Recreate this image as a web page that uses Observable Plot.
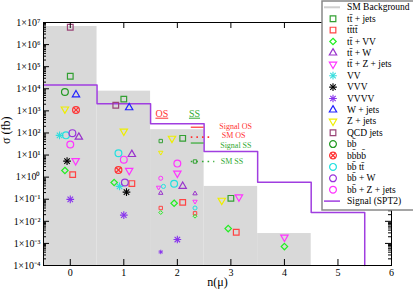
<!DOCTYPE html>
<html><head><meta charset="utf-8">
<script src="https://cdn.jsdelivr.net/npm/d3@7"></script>
<script src="https://cdn.jsdelivr.net/npm/@observablehq/plot@0.6"></script>
<style>
html,body{margin:0;padding:0;background:#fff;}
#chart{position:relative;width:413px;height:291px;}
</style></head><body><div id="chart"></div>
<script>
// ---------- data ----------
const xTicks = [0, 1, 2, 3, 4, 5, 6];
const yExponents = [-4, -3, -2, -1, 0, 1, 2, 3, 4, 5, 6, 7];
const xDomain = [-0.5, 6];

// SM background histogram (bin left edge, right edge, value)
const bgLeft  = [-0.5, 0.5, 1.5, 2.5, 3.5];
const bgRight = [0.5, 1.5, 2.5, 3.5, 4.5];
const bgValue = [6.6e6, 7.8e3, 140, 0.38, 0.0028];

// Signal (SPT2) step line: bin edges and values
const sigEdges  = [-0.5, 0.5, 1.5, 2.5, 3.5, 4.5, 5.5];
const sigValues = [1.5e4, 2.1e3, 260, 14.5, 0.59, 0.025, 1e-4];

// points: [n(mu) position, sigma, kind]  kind: all / OS / SS
const ttJets = [[0, 3.7e4, "all"], [1.0, 3.4e3, "all"], [2.1, 57, "all"], [1.69, 43, "OS"], [2.33, 5.1, "SS"], [3.0, 0.11, "all"]];
const tttt   = [[0.045, 1.3, "all"], [1.15, 0.51, "all"], [2.1, 0.072, "all"], [1.69, 0.040, "OS"], [2.33, 0.023, "SS"], [3.1, 0.0032, "all"]];
const ttVV   = [[-0.1, 2.0, "all"], [0.82, 0.57, "all"], [1.94, 0.066, "all"], [1.69, 0.025, "OS"], [2.33, 0.017, "SS"], [2.95, 0.0047, "all"], [4.0, 7.2e-4, "all"]];
const ttW    = [[0.16, 65, "all"], [1.15, 10.7, "all"], [2.1, 0.39, "all"], [1.69, 0.19, "OS"], [2.33, 0.18, "SS"]];
const ttZ    = [[0.1, 5.5, "all"], [1.1, 2.0, "all"], [2.0, 1.5, "all"], [1.65, 0.34, "OS"], [2.33, 0.079, "SS"], [3.15, 0.125, "all"], [4.0, 0.0019, "all"]];
const VV     = [[-0.2, 78, "all"], [0.92, 0.38, "all"]];
const VVV    = [[-0.06, 5.3, "all"], [1.05, 0.21, "all"]];
const VVVV   = [[0, 0.098, "all"], [1.0, 0.019, "all"], [2.0, 0.0015, "all"], [1.69, 4.1e-4, "OS"]];
const WJets  = [[0.107, 5.4e3, "all"], [1.1, 1.4e3, "all"]];
const ZJets  = [[-0.1, 1.2e3, "all"], [1.0, 120, "all"], [1.9, 57, "all"], [1.69, 13, "OS"], [2.83, 0.089, "all"]];
const QCD    = [[0, 6.1e6, "all"], [0.85, 1.8e3, "all"]];
const bb     = [[-0.1, 7.1e3, "all"]];
const bbbb   = [[0.107, 1.1e3, "all"], [0.9, 2.1, "all"]];
const bbtt   = [[-0.08, 78, "all"], [0.9, 12, "all"], [1.94, 0.50, "all"], [1.74, 0.38, "OS"], [2.33, 0.040, "SS"]];
const bbW    = [[0.04, 98, "all"], [1.02, 0.57, "all"]];
const bbZ    = [[0, 30, "all"], [1.0, 6.2, "all"], [2.0, 4.1, "all"], [1.69, 0.89, "OS"]];

const seriesNames = ["tt\u0304 + jets", "tt\u0304tt\u0304", "tt\u0304 + VV", "tt\u0304 + W", "tt\u0304 + Z + jets", "VV", "VVV", "VVVV", "W + jets", "Z + jets", "QCD jets", "bb\u0304", "bb\u0304bb\u0304", "bb\u0304 tt\u0304", "bb\u0304 + W", "bb\u0304 + Z + jets"];
const seriesData = [ttJets, tttt, ttVV, ttW, ttZ, VV, VVV, VVVV, WJets, ZJets, QCD, bb, bbbb, bbtt, bbW, bbZ];

// OS / SS annotation key
const keyHeads = [{t: "OS", x: 1.71, y: 760, c: "#ff3333"}, {t: "SS", x: 2.32, y: 760, c: "#33aa33"}];
const keyLines = [
  {t: "Signal OS", y: 182, ty: 190, c: "#ff3333", dotted: false, x2: 2.5, tx: 2.785},
  {t: "SM OS",     y: 65,  ty: 80,  c: "#ff3333", dotted: true,  x2: 2.67, tx: 2.83},
  {t: "Signal SS", y: 35,  ty: 27,  c: "#33aa33", dotted: false, x2: 2.5, tx: 2.80},
  {t: "SM SS",     y: 5.1, ty: 5.1, c: "#33aa33", dotted: true,  x2: 2.70, tx: 2.81}
];

// ---------- styles ----------
const styles = [
  {c: "#33a033", sym: ["square2"]},
  {c: "#ff4444", sym: ["square2"]},
  {c: "#22ee22", sym: ["diamond2"]},
  {c: "#9933cc", sym: ["triangle2"]},
  {c: "#ff33ff", sym: ["triangle2"], rot: 180},
  {c: "#33dddd", sym: ["plus", "times"]},
  {c: "#000000", sym: ["plus", "times"]},
  {c: "#8833ee", sym: ["plus", "times"]},
  {c: "#2222ff", sym: ["triangle2"]},
  {c: "#eeee00", sym: ["triangle2"], rot: 180},
  {c: "#9a4477", sym: ["square2"]},
  {c: "#229922", sym: ["circle"]},
  {c: "#ff3333", sym: ["circle", "times"]},
  {c: "#22e0e0", sym: ["circle"]},
  {c: "#9933dd", sym: ["circle"]},
  {c: "#ff33ff", sym: ["circle"]}
];
const bigR = {square2: 3.6, circle: 3.4, triangle2: 3.5, diamond2: 2.9, plus: 2.6, times: 2.6};
const sigColor = "#a03ee0";
const bgColor = "#d9d9d9";

const W = 413, H = 291, mL = 43, mR = 22, mT = 22, mB = 26;
const pw = W - mL - mR, ph = H - mT - mB;

const yMajor = yExponents.map(e => Math.pow(10, e));
const yMinor = yExponents.slice(0, -1).flatMap(e => d3.range(2, 10).map(m => m * Math.pow(10, e)));
const yFloor = yMajor[0];

const sup = {"-": "\u207b", "0": "\u2070", "1": "\u00b9", "2": "\u00b2", "3": "\u00b3", "4": "\u2074", "5": "\u2075", "6": "\u2076", "7": "\u2077", "8": "\u2078", "9": "\u2079"};
const fmt = d => "1\u00d710" + String(Math.round(Math.log10(d))).split("").map(c => sup[c]).join("");

const bgBins = bgLeft.map((l, i) => ({x1: l, x2: bgRight[i], v: bgValue[i]}));
const sigPts = sigEdges.map((e, i) => ({x: e, y: sigValues[i]}));

const pointMarks = [];
seriesData.forEach((arr, i) => {
  const st = styles[i];
  const rows = arr.map(([x, y, k]) => ({x, y, k}));
  const sw = st.sym[0] === "plus" ? 1.1 : 1.2;
  st.sym.forEach(s => {
    const r = bigR[s];
    pointMarks.push(Plot.dot(rows, {filter: d => d.k === "all", x: "x", y: "y", symbol: s, r: r, stroke: st.c, fill: "none", strokeWidth: sw, rotate: st.rot || 0}));
    pointMarks.push(Plot.dot(rows, {filter: d => d.k !== "all", x: "x", y: "y", symbol: s, r: r * 0.6, stroke: st.c, fill: "none", strokeWidth: 1.0, rotate: st.rot || 0}));
  });
});

const plot = Plot.plot({
  width: W, height: H,
  marginLeft: mL, marginRight: mR, marginTop: mT, marginBottom: mB,
  style: {fontFamily: '"Liberation Serif", serif', fontSize: "10px", background: "transparent", color: "black"},
  x: {domain: xDomain},
  y: {type: "log", domain: [yFloor, yMajor[yMajor.length - 1]]},
  marks: [
    Plot.rect(bgBins, {x1: "x1", x2: "x2", y1: () => yFloor, y2: "v", fill: bgColor}),
    Plot.line(sigPts, {x: "x", y: "y", curve: "step-after", stroke: sigColor, strokeWidth: 1.5}),
    // key lines
    Plot.ruleY(keyLines.filter(d => !d.dotted), {y: "y", x1: () => 2.26, x2: "x2", stroke: "c", strokeWidth: 1.2}),
    Plot.ruleY(keyLines.filter(d => d.dotted), {y: "y", x1: () => 2.26, x2: "x2", stroke: "c", strokeWidth: 1.6, strokeDasharray: "1.6,4"}),
    Plot.text(keyLines, {x: "tx", y: "ty", text: "t", fill: "c", textAnchor: "start", fontSize: 8}),
    Plot.text(keyHeads, {x: "x", y: "y", text: "t", fill: "c", fontSize: 10}),
    ...pointMarks,
    // ticks
    Plot.tickY(yMajor, {y: d => d, insetRight: pw - 6, stroke: "black"}),
    Plot.tickY(yMinor, {y: d => d, insetRight: pw - 3, stroke: "black"}),
    Plot.tickY(yMajor, {y: d => d, insetLeft: pw - 6, stroke: "black"}),
    Plot.tickY(yMinor, {y: d => d, insetLeft: pw - 3, stroke: "black"}),
    Plot.tickX(xTicks, {x: d => d, insetTop: ph - 6, stroke: "black"}),
    Plot.tickX(xTicks, {x: d => d, insetBottom: ph - 6, stroke: "black"}),
    Plot.frame({stroke: "black"}),
    Plot.axisY({ticks: yMajor, tickFormat: fmt, tickSize: 0, tickPadding: 3, label: null, fontSize: 10}),
    Plot.axisX({ticks: xTicks, tickFormat: d => String(d), tickSize: 0, tickPadding: 3, label: null, fontSize: 10}),
    Plot.text(["\u03c3 (fb)"], {frameAnchor: "left", dx: -37, rotate: -90, fontSize: 12}),
    Plot.text(["n(\u03bc)"], {frameAnchor: "bottom", dy: 20, fontSize: 12})
  ]
});
document.getElementById("chart").appendChild(plot);

// underline OS / SS headings
d3.select(plot).selectAll("text").filter(function() { return this.textContent === "OS" || this.textContent === "SS"; })
  .attr("text-decoration", "underline");

// ---------- legend ----------
const svg = d3.select(plot);
const lg = svg.append("g").attr("font-family", '"Liberation Serif", serif').attr("font-size", 9.5).attr("text-anchor", "start");
lg.append("rect").attr("x", 322).attr("y", 1).attr("width", 100).attr("height", 209)
  .attr("fill", "white").attr("stroke", "#888").attr("stroke-width", 1.5);
const legendNames = ["SM Background", ...seriesNames, "Signal (SPT2)"];
const y0 = 7.3, step = 11.4, sx = 333, tx = 347;
const d3sym = {square2: d3.symbolSquare2, circle: d3.symbolCircle, triangle2: d3.symbolTriangle2, diamond2: d3.symbolDiamond2, plus: d3.symbolPlus, times: d3.symbolTimes};
legendNames.forEach((name, i) => {
  const y = y0 + i * step;
  if (i === 0) {
    lg.append("line").attr("x1", 324).attr("x2", 340).attr("y1", y).attr("y2", y).attr("stroke", "#cfcfcf").attr("stroke-width", 2);
  } else if (i === legendNames.length - 1) {
    lg.append("line").attr("x1", 324).attr("x2", 340).attr("y1", y).attr("y2", y).attr("stroke", sigColor).attr("stroke-width", 1.5);
  } else {
    const st = styles[i - 1];
    st.sym.forEach(s => {
      const r = bigR[s];
      lg.append("path").attr("d", d3.symbol(d3sym[s], Math.PI * r * r)())
        .attr("transform", `translate(${sx},${y}) rotate(${st.rot || 0})`)
        .attr("fill", "none").attr("stroke", st.c).attr("stroke-width", st.sym[0] === "plus" ? 1.1 : 1.2);
    });
  }
  lg.append("text").attr("x", tx).attr("y", y).attr("dy", "0.32em").attr("fill", "black").text(name);
});
</script></body></html>
